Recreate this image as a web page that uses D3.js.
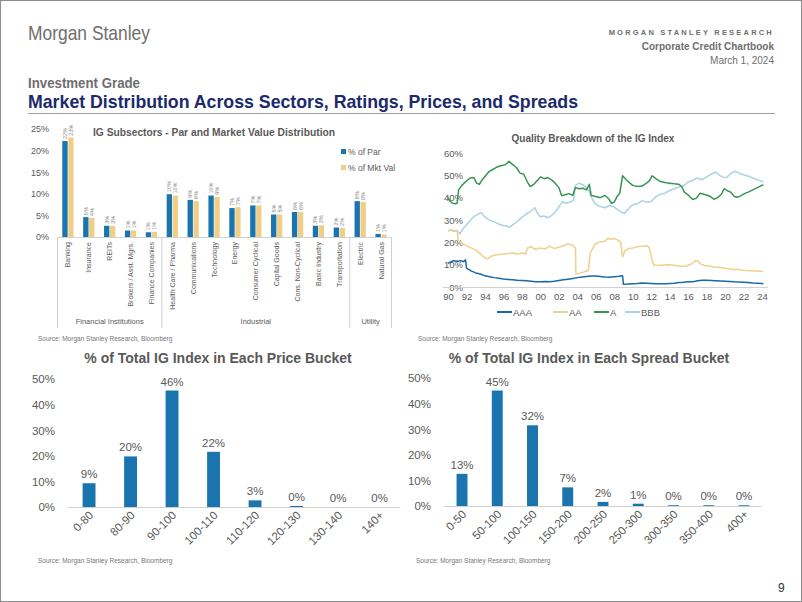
<!DOCTYPE html>
<html><head><meta charset="utf-8">
<script src="https://cdn.jsdelivr.net/npm/d3@7"></script>
<style>
body{margin:0;background:#fff;}
svg{display:block;font-family:"Liberation Sans",Arial,sans-serif;}
</style></head><body>
<svg id="c" width="802" height="602"></svg>
<script>
// ---------- DATA ----------
const sectors = ["Banking","Insurance","REITs","Brokers / Asst. Mgrs.","Finance Companies","Health Care / Pharma","Communications","Technology","Energy","Consumer Cyclical","Capital Goods","Cons. Non-Cyclical","Basic Industry","Transportation","Electric","Natural Gas"];
const pctPar    = [22.2,4.6,2.6,1.5,1.1,9.9,8.6,9.6,6.7,7.3,5.2,5.8,2.6,2.2,8.3,0.7];
const pctMktVal = [23.0,4.4,2.6,1.5,1.2,9.6,8.3,9.3,6.9,7.3,5.2,5.8,2.7,2.1,8.1,0.6];
const parLabels = ["22%","5%","3%","1%","1%","10%","9%","10%","7%","7%","5%","6%","3%","2%","8%","1%"];
const mktLabels = ["23%","4%","3%","1%","1%","10%","8%","9%","7%","7%","5%","6%","3%","2%","8%","1%"];
const sectorGroups = [{name:"Financial Institutions",from:0,to:4},{name:"Industrial",from:5,to:13},{name:"Utility",from:14,to:15}];
const subsectorTicks = [0,5,10,15,20,25];

const qualityYears = [1990,1992,1994,1996,1998,2000,2002,2004,2006,2008,2010,2012,2014,2016,2018,2020,2022,2024];
const qualityTicks = [0,10,20,30,40,50,60];
const AAA = [[1990,10.6],[1990.3,11.2],[1990.6,11.8],[1991,11.5],[1991.4,11.8],[1991.7,11.3],[1991.9,12.2],[1992.0,8.5],[1992.5,7.2],[1993,6.3],[1993.5,5.8],[1994,5.0],[1994.5,4.6],[1995,4.2],[1995.5,3.9],[1996,3.6],[1996.5,3.4],[1997,3.2],[1997.5,3.0],[1998,2.9],[1998.5,2.8],[1999,2.6],[1999.5,2.4],[2000,2.3],[2000.5,2.5],[2001,2.4],[2001.5,2.6],[2002,2.9],[2002.5,3.2],[2003,3.5],[2003.5,3.8],[2004,4.2],[2004.5,4.5],[2005,4.7],[2005.5,4.9],[2006,4.9],[2006.5,4.7],[2007,4.5],[2007.5,4.4],[2008,4.6],[2008.5,4.8],[2008.9,5.0],[2009.0,1.2],[2009.5,1.3],[2010,1.5],[2010.5,1.6],[2011,1.8],[2011.5,1.7],[2012,1.6],[2012.5,1.5],[2013,1.4],[2013.5,1.5],[2014,1.6],[2014.5,1.7],[2015,2.0],[2015.5,2.1],[2016,2.4],[2016.5,2.3],[2017,2.8],[2017.5,3.0],[2018,3.0],[2018.5,2.9],[2019,2.8],[2019.5,2.7],[2020,2.6],[2020.5,2.5],[2021,2.3],[2021.5,2.2],[2022,2.1],[2022.5,2.0],[2023,1.8],[2023.5,1.7],[2024,1.6],[2024.15,1.5]];
const AA = [[1990,25],[1990.3,25.5],[1990.6,24.8],[1991,25.3],[1991.1,21],[1991.5,19.5],[1992,18.5],[1992.5,17.5],[1993,16.5],[1993.5,14.8],[1994,13.0],[1994.3,12.6],[1994.7,13.8],[1995,14.2],[1995.5,14.6],[1996,14.8],[1996.5,15.0],[1997,15.3],[1997.5,14.8],[1998,15.2],[1998.4,14.8],[1998.6,17.5],[1999,18.0],[1999.5,16.8],[2000,17.5],[2000.5,17.0],[2001,18.2],[2001.5,17.3],[2002,17.8],[2002.5,18.5],[2003,19.3],[2003.5,18.8],[2003.8,17.5],[2003.85,5.8],[2004.3,6.2],[2004.8,6.8],[2005.2,7.5],[2005.4,15],[2005.7,17.5],[2006,19.5],[2006.5,20.2],[2007,20.5],[2007.3,21.8],[2007.7,21.3],[2008,21.8],[2008.4,21.0],[2008.7,20.0],[2008.9,13.5],[2009.2,16.5],[2009.6,17.2],[2010,17.5],[2010.5,18.0],[2011,18.2],[2011.5,18.5],[2011.8,17.5],[2012.1,12],[2012.3,9.8],[2012.8,9.6],[2013.3,9.8],[2013.8,10.0],[2014.3,9.9],[2014.8,9.5],[2015.3,9.3],[2015.8,9.4],[2016.3,10.2],[2016.8,11.8],[2017.1,11.5],[2017.4,10.2],[2017.8,9.6],[2018.3,9.4],[2018.8,9.0],[2019.3,8.8],[2019.8,8.5],[2020.3,8.2],[2020.8,7.8],[2021.3,7.9],[2021.8,7.6],[2022.3,7.4],[2022.8,7.3],[2023.3,7.2],[2023.8,7.0],[2024.15,6.9]];
const A = [[1990,40],[1990.2,38.5],[1990.5,37.5],[1990.8,37.3],[1991.0,37.6],[1991.15,43.5],[1991.5,45.5],[1992,47.5],[1992.4,48.8],[1992.8,49.0],[1993.1,46.5],[1993.4,46.0],[1993.7,48.0],[1994,49.5],[1994.4,51.5],[1994.8,52.5],[1995.2,53.5],[1995.6,54.2],[1996,54.5],[1996.3,55.0],[1996.6,56.3],[1997,54.8],[1997.4,53.5],[1997.8,51.0],[1998.2,50.5],[1998.6,47.0],[1998.9,45.0],[1999.3,46.0],[1999.7,47.8],[2000,49.3],[2000.4,48.5],[2000.8,49.0],[2001.2,48.0],[2001.6,46.5],[2002,44.5],[2002.3,41.0],[2002.7,41.3],[2003.1,41.8],[2003.5,41.0],[2003.8,44.5],[2004.2,44.0],[2004.6,44.2],[2005,43.5],[2005.3,46.0],[2005.5,41.0],[2006,40.5],[2006.5,40.0],[2007,41.0],[2007.4,39.5],[2007.7,37.5],[2008,38.0],[2008.3,40.5],[2008.6,42.0],[2008.9,49.8],[2009.3,48.0],[2009.7,46.5],[2010,45.5],[2010.5,45.0],[2011,45.2],[2011.5,46.5],[2011.8,47.5],[2012.1,49.8],[2012.5,48.5],[2013,47.2],[2013.5,46.8],[2014,46.5],[2014.5,46.2],[2015,46.0],[2015.3,45.0],[2015.6,42.5],[2016,41.2],[2016.5,39.2],[2016.9,39.8],[2017.3,42.0],[2017.7,41.5],[2018,41.2],[2018.4,40.5],[2018.8,39.3],[2019.2,40.0],[2019.6,41.5],[2019.9,44.0],[2020.3,43.0],[2020.6,42.5],[2021,40.5],[2021.3,40.2],[2021.7,40.8],[2022.1,41.8],[2022.5,42.5],[2023,43.5],[2023.5,44.5],[2024,45.5],[2024.15,45.8]];
const BBB = [[1990,25],[1990.3,25.6],[1990.6,25.3],[1991,25.0],[1991.3,23.8],[1991.6,26.0],[1992,27.8],[1992.4,29.8],[1992.8,31.5],[1993.2,32.5],[1993.6,33.3],[1994,31.3],[1994.4,30.2],[1994.8,29.5],[1995.2,28.8],[1995.6,28.0],[1996,27.5],[1996.4,27.2],[1996.7,26.8],[1997,27.8],[1997.4,29.0],[1997.8,30.5],[1998.2,31.8],[1998.6,33.0],[1999,34.0],[1999.4,35.5],[1999.7,33.0],[2000,31.5],[2000.4,31.8],[2000.8,31.0],[2001.2,32.0],[2001.6,33.5],[2002,35.8],[2002.4,38.2],[2002.8,37.5],[2003.2,38.0],[2003.6,38.8],[2003.8,45.5],[2004.2,46.5],[2004.6,45.8],[2005,44.5],[2005.3,42.5],[2005.6,39.5],[2006,37.0],[2006.5,36.0],[2007,35.5],[2007.5,36.5],[2008,35.8],[2008.4,34.5],[2008.8,33.5],[2009.1,33.0],[2009.5,34.8],[2010,36.8],[2010.5,37.3],[2011,38.6],[2011.5,38.0],[2012,38.3],[2012.5,40.4],[2013,41.5],[2013.5,42.0],[2014,43.2],[2014.5,44.0],[2015,44.8],[2015.5,45.3],[2016,47.0],[2016.5,47.8],[2017,48.8],[2017.5,48.0],[2018,49.3],[2018.5,50.5],[2019,51.5],[2019.4,50.0],[2019.8,49.2],[2020.2,49.0],[2020.6,50.8],[2021,51.8],[2021.4,51.2],[2021.8,50.5],[2022.2,50.0],[2022.6,49.5],[2023,48.8],[2023.5,48.0],[2024,47.3],[2024.15,47.0]];

const priceBuckets = ["0-80","80-90","90-100","100-110","110-120","120-130","130-140","140+"];
const priceValues  = [9.3,19.8,45.6,21.6,2.6,0.4,0,0];
const priceLabels  = ["9%","20%","46%","22%","3%","0%","0%","0%"];
const spreadBuckets = ["0-50","50-100","100-150","150-200","200-250","250-300","300-350","350-400","400+"];
const spreadValues  = [12.6,45.2,31.6,7.3,1.6,0.9,0.3,0.3,0.3];
const spreadLabels  = ["13%","45%","32%","7%","2%","1%","0%","0%","0%"];
const bucketTicks = [0,10,20,30,40,50];

// ---------- STYLE ----------
const BLUE="#1a74ae", GOLD="#efcf87", GREY="#595959", LIGHT="#d0d0d0";
const cAAA="#1a69a6", cAA="#efd08c", cA="#379553", cBBB="#a9d3e2";
const svg = d3.select("#c");
const pct = d => d + "%";

// page frame
svg.append("rect").attr("x",0.5).attr("y",0.5).attr("width",801).attr("height",601).attr("fill","none").attr("stroke","#8c8c8c");

// header
svg.append("text").attr("x",28).attr("y",40).attr("font-family","'Liberation Sans Narrow','Liberation Sans',sans-serif").attr("font-size",21).attr("fill","#6e6e6e").attr("textLength",122).attr("lengthAdjust","spacingAndGlyphs").text("Morgan Stanley");
svg.append("text").attr("x",774).attr("y",35).attr("text-anchor","end").attr("font-size",7.5).attr("font-weight","bold").attr("fill","#6e6e6e").attr("letter-spacing","2.2px").text("MORGAN STANLEY RESEARCH");
svg.append("text").attr("x",774).attr("y",50).attr("text-anchor","end").attr("font-family","'Liberation Sans Narrow','Liberation Sans',sans-serif").attr("font-size",10).attr("font-weight","bold").attr("fill","#6e6e6e").text("Corporate Credit Chartbook");
svg.append("text").attr("x",774).attr("y",64).attr("text-anchor","end").attr("font-family","'Liberation Sans Narrow','Liberation Sans',sans-serif").attr("font-size",10).attr("fill","#6e6e6e").text("March 1, 2024");
svg.append("text").attr("x",28).attr("y",88).attr("font-size",14).attr("font-weight","bold").attr("fill","#6e6e6e").attr("textLength",112).attr("lengthAdjust","spacingAndGlyphs").text("Investment Grade");
svg.append("text").attr("x",28).attr("y",108).attr("font-size",19).attr("font-weight","bold").attr("fill","#1b2a6b").attr("textLength",550).attr("lengthAdjust","spacingAndGlyphs").text("Market Distribution Across Sectors, Ratings, Prices, and Spreads");
svg.append("line").attr("x1",28).attr("x2",775).attr("y1",113.5).attr("y2",113.5).attr("stroke","#a0a0a0").attr("stroke-width",1);
svg.append("text").attr("x",778).attr("y",592).attr("font-size",12).attr("fill","#333").text("9");

function source(x,y){
  svg.append("text").attr("x",x).attr("y",y).attr("font-size",6.5).attr("fill","#777").text("Source: Morgan Stanley Research, Bloomberg");
}

// ---------- CHART 1: subsectors ----------
(function(){
  const x = d3.scaleBand().domain(sectors).range([57.5,391.5]).paddingInner(0.46).paddingOuter(0.23);
  const xs = d3.scaleBand().domain(["par","mkt"]).range([0,x.bandwidth()]).paddingInner(0.1);
  const y = d3.scaleLinear().domain([0,25]).range([237,129]);
  const g = svg.append("g");
  g.append("g").attr("transform","translate(52,0)").call(d3.axisLeft(y).tickValues(subsectorTicks).tickFormat(pct).tickSize(0))
    .call(a=>a.select(".domain").remove()).selectAll("text").attr("font-size",9).attr("fill",GREY).attr("font-family","'Liberation Sans',sans-serif");
  g.append("line").attr("x1",57.5).attr("x2",391.5).attr("y1",y(0)+0.5).attr("y2",y(0)+0.5).attr("stroke",LIGHT);
  const series=[{k:"par",v:pctPar,l:parLabels,c:BLUE},{k:"mkt",v:pctMktVal,l:mktLabels,c:GOLD}];
  series.forEach(s=>{
    g.selectAll(null).data(sectors).enter().append("rect")
      .attr("x",(d)=>x(d)+xs(s.k)).attr("width",xs.bandwidth())
      .attr("y",(d,i)=>y(s.v[i])).attr("height",(d,i)=>y(0)-y(s.v[i])).attr("fill",s.c);
    g.selectAll(null).data(sectors).enter().append("text")
      .attr("transform",(d,i)=>`translate(${x(d)+xs(s.k)+xs.bandwidth()/2+2},${y(s.v[i])-2}) rotate(-90)`)
      .attr("font-size",5.5).attr("fill","#8a8a8a").text((d,i)=>s.l[i]);
  });
  // category labels
  g.selectAll(null).data(sectors).enter().append("text")
    .attr("transform",d=>`translate(${x(d)+x.bandwidth()/2+2.5},${y(0)+5}) rotate(-90)`)
    .attr("text-anchor","end").attr("font-size",7).attr("fill",GREY).text(d=>d);
  // group separators & labels
  const step = x.step();
  const edges = [57.5, x(sectors[5]) - (step - x.bandwidth())/2, x(sectors[14]) - (step - x.bandwidth())/2, 391.5];
  edges.forEach(e=>g.append("line").attr("x1",e).attr("x2",e).attr("y1",y(0)).attr("y2",328).attr("stroke",LIGHT));
  sectorGroups.forEach((gr,i)=>{
    g.append("text").attr("x",(edges[i]+edges[i+1])/2).attr("y",324).attr("text-anchor","middle").attr("font-size",7.5).attr("fill","#5a5a5a").text(gr.name);
  });
  g.append("text").attr("x",93).attr("y",136).attr("font-size",10).attr("font-weight","bold").attr("fill",GREY).attr("textLength",242).attr("lengthAdjust","spacingAndGlyphs").text("IG Subsectors - Par and Market Value Distribution");
  [["% of Par",BLUE,155],["% of Mkt Val",GOLD,171]].forEach(([t,c,yy])=>{
    g.append("rect").attr("x",341).attr("y",yy-6).attr("width",5).attr("height",5).attr("fill",c);
    g.append("text").attr("x",348).attr("y",yy).attr("font-size",8.5).attr("fill",GREY).text(t);
  });
  source(38,341);
})();

// ---------- CHART 2: quality breakdown ----------
(function(){
  const x = d3.scaleLinear().domain([1990,2024]).range([448,762]);
  const y = d3.scaleLinear().domain([0,60]).range([287,153]);
  const g = svg.append("g");
  g.append("text").attr("x",593).attr("y",142).attr("text-anchor","middle").attr("font-size",10).attr("font-weight","bold").attr("fill",GREY).text("Quality Breakdown of the IG Index");
  g.append("g").attr("transform","translate(466,0)").call(d3.axisLeft(y).tickValues(qualityTicks).tickFormat(pct).tickSize(0))
    .call(a=>a.select(".domain").remove()).selectAll("text").attr("font-size",9.5).attr("fill",GREY);
  g.append("g").attr("transform",`translate(0,${y(0)})`).call(d3.axisBottom(x).tickValues(qualityYears).tickFormat(d=>String(d).slice(2)).tickSize(0).tickPadding(6))
    .call(a=>a.select(".domain").attr("stroke",LIGHT).attr("d","M443,0.5H768"))
    .selectAll("text").attr("font-size",9.5).attr("fill",GREY);
  const line = d3.line().x(d=>x(d[0])).y(d=>y(d[1]));
  [[BBB,cBBB],[AA,cAA],[A,cA],[AAA,cAAA]].forEach(([s,c])=>{
    g.append("path").attr("d",line(s)).attr("fill","none").attr("stroke",c).attr("stroke-width",1.5).attr("stroke-linejoin","round");
  });
  const leg=[["AAA",cAAA,497],["AA",cAA,553],["A",cA,594],["BBB",cBBB,625]];
  leg.forEach(([t,c,lx])=>{
    g.append("line").attr("x1",lx).attr("x2",lx+15).attr("y1",312).attr("y2",312).attr("stroke",c).attr("stroke-width",2);
    g.append("text").attr("x",lx+16).attr("y",315.5).attr("font-size",9.5).attr("fill",GREY).text(t);
  });
  source(418,341);
})();

// ---------- bucket charts ----------
function bucketChart(opts){
  const {cats,vals,labels,x0,x1,yBase,yTop,axisX,title,titleX,srcX} = opts;
  const x = d3.scaleBand().domain(cats).range([x0,x1]).paddingInner(0.69).paddingOuter(0.345);
  const y = d3.scaleLinear().domain([0,50]).range([yBase,yTop]);
  const g = svg.append("g");
  g.append("text").attr("x",titleX).attr("y",363).attr("text-anchor","middle").attr("font-size",14).attr("font-weight","bold").attr("fill",GREY).text(title);
  g.append("g").attr("transform",`translate(${axisX},0)`).call(d3.axisLeft(y).tickValues(bucketTicks).tickFormat(pct).tickSize(0))
    .call(a=>a.select(".domain").remove()).selectAll("text").attr("font-size",11.5).attr("fill",GREY);
  g.append("line").attr("x1",x0).attr("x2",x1).attr("y1",yBase+0.5).attr("y2",yBase+0.5).attr("stroke",LIGHT);
  g.selectAll(null).data(cats).enter().append("rect")
    .attr("x",d=>x(d)).attr("width",x.bandwidth()).attr("y",(d,i)=>y(vals[i])).attr("height",(d,i)=>yBase-y(vals[i])).attr("fill",BLUE);
  g.selectAll(null).data(cats).enter().append("text")
    .attr("x",d=>x(d)+x.bandwidth()/2).attr("y",(d,i)=>y(vals[i])-5).attr("text-anchor","middle").attr("font-size",11.5).attr("fill",GREY).text((d,i)=>labels[i]);
  g.selectAll(null).data(cats).enter().append("text")
    .attr("transform",d=>`translate(${x(d)+x.bandwidth()/2+5},${yBase+9}) rotate(-45)`)
    .attr("text-anchor","end").attr("font-size",11.5).attr("fill",GREY).text(d=>d);
  source(srcX,563);
}
bucketChart({cats:priceBuckets,vals:priceValues,labels:priceLabels,x0:68.3,x1:400.3,yBase:507,yTop:379.3,axisX:58,title:"% of Total IG Index in Each Price Bucket",titleX:218,srcX:38});
bucketChart({cats:spreadBuckets,vals:spreadValues,labels:spreadLabels,x0:444.4,x1:761.6,yBase:506,yTop:378.3,axisX:434,title:"% of Total IG Index in Each Spread Bucket",titleX:589,srcX:416});
</script></body></html>
